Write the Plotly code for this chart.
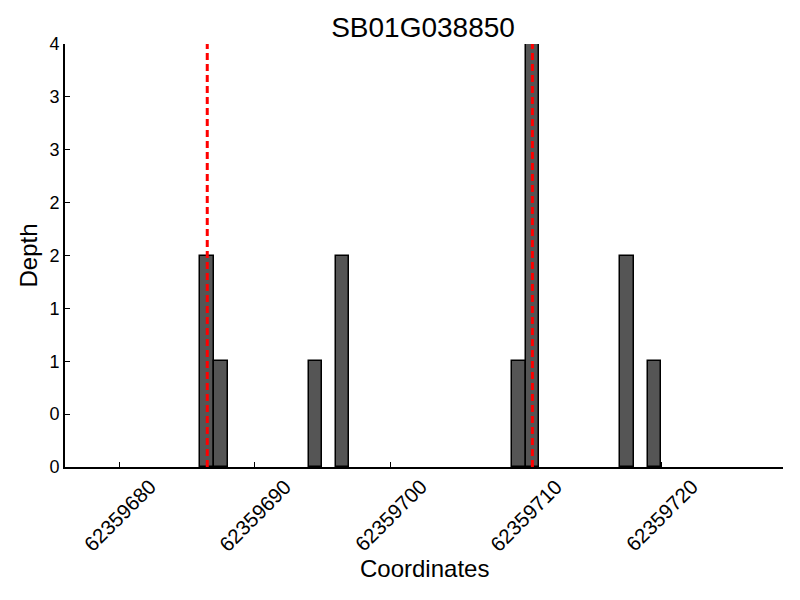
import plotly.graph_objects as go

title = "SB01G038850"
positions = [62359686, 62359687, 62359694, 62359696, 62359709, 62359710, 62359717, 62359719]
depths = [2, 1, 1, 2, 1, 4, 2, 1]
marker_positions = [62359686.5, 62359710.5]
x_tickvals = [62359680, 62359690, 62359700, 62359710, 62359720]
x_ticktext = ["62359680", "62359690", "62359700", "62359710", "62359720"]
y_tickvals = [0, 0.5, 1, 1.5, 2, 2.5, 3, 3.5, 4]
y_ticktext = ["0", "0", "1", "1", "2", "2", "3", "3", "4"]
x_range = [62359676, 62359729]
y_range = [0, 4]

FONT = "Liberation Sans, Arial, sans-serif"

fig = go.Figure()
fig.add_trace(go.Bar(
    x=positions, y=depths, width=1, offset=0,
    marker=dict(color="#555555", line=dict(color="black", width=1.5)),
    showlegend=False,
))
for mp in marker_positions:
    fig.add_trace(go.Scatter(
        x=[mp, mp], y=y_range, mode="lines",
        line=dict(color="red", width=3, dash="7px,4px"),
        showlegend=False, hoverinfo="skip",
    ))

for v, t in zip(x_tickvals, x_ticktext):
    fig.add_annotation(x=v, xref="x", y=0, yref="paper", text=t,
                       textangle=-45, xanchor="center", yanchor="top",
                       yshift=-5, showarrow=False,
                       font=dict(family=FONT, size=20.5, color="black"))

fig.add_annotation(x=0.5, xref="paper", y=-0.239, yref="paper", text="Coordinates",
                   xanchor="center", yanchor="middle", showarrow=False,
                   font=dict(family=FONT, size=24, color="black"))
fig.add_annotation(x=(28 - 65) / 718, xref="paper", y=0.5, yref="paper", text="Depth",
                   textangle=-90, xanchor="center", yanchor="middle", showarrow=False,
                   font=dict(family=FONT, size=24, color="black"))

fig.update_layout(
    width=800, height=600,
    margin=dict(l=65, r=17, t=44, b=133, autoexpand=False),
    paper_bgcolor="white", plot_bgcolor="white",
    font=dict(family=FONT, size=18, color="black"),
    title=dict(text=title, x=423 / 800, xanchor="center", y=1 - 27 / 600,
               yanchor="middle", yref="container",
               font=dict(family=FONT, size=28, color="black")),
    bargap=0,
    xaxis=dict(range=x_range, tickvals=x_tickvals, showticklabels=False,
               ticks="inside", ticklen=5, tickwidth=1, tickcolor="black",
               showline=True, linecolor="black", linewidth=2,
               showgrid=False, zeroline=False, automargin=False),
    yaxis=dict(range=y_range, tickvals=y_tickvals, ticktext=y_ticktext,
               ticks="inside", ticklen=5, tickwidth=1, tickcolor="black",
               showline=True, linecolor="black", linewidth=2,
               showgrid=False, zeroline=False, automargin=False,
               tickfont=dict(family=FONT, size=18, color="black")),
)

fig.write_html("out.html", config={"displayModeBar": False},
               post_script="document.body.style.margin='0';")
